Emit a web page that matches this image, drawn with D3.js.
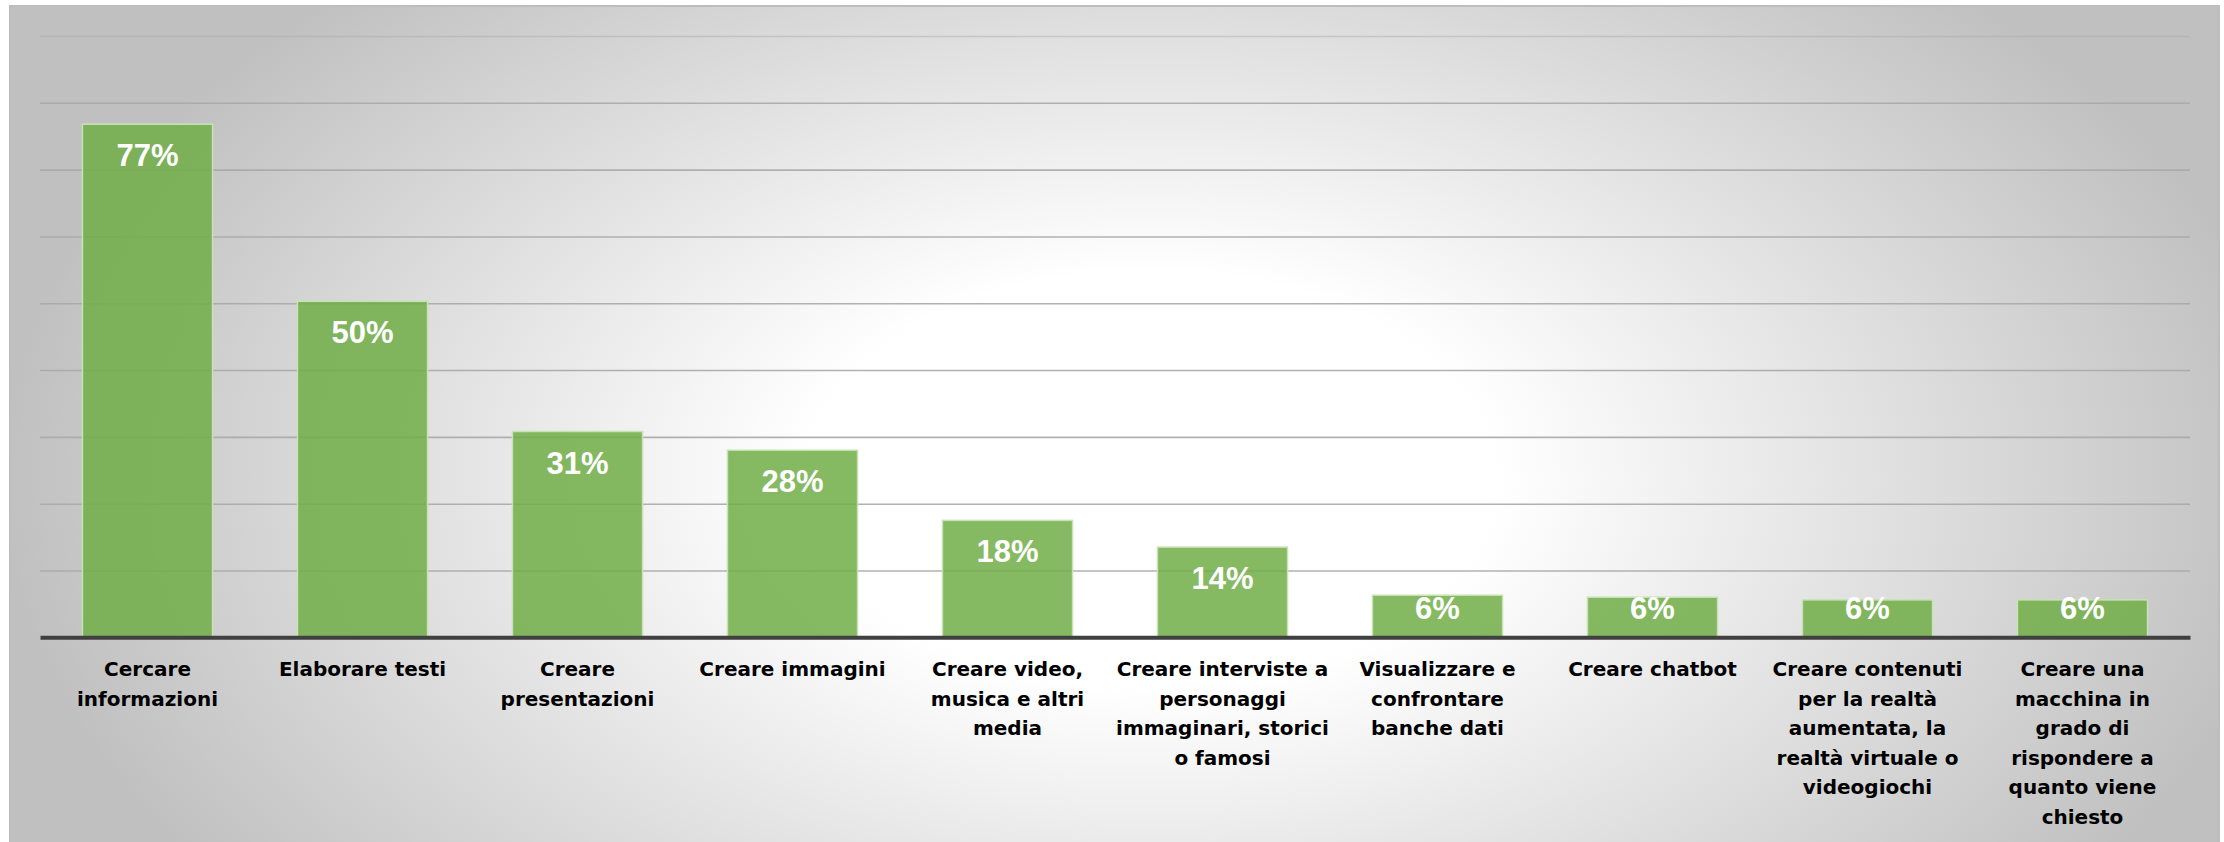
<!DOCTYPE html>
<html>
<head>
<meta charset="utf-8">
<script src="https://cdn.jsdelivr.net/npm/d3@7"></script>
<style>
    body { margin: 0; background: #ffffff; }
    svg { display: block; }
</style>
</head>
<body>
<svg id="chart" width="2224" height="842">
    <defs>
        <radialGradient id="bg-grad" gradientUnits="userSpaceOnUse" cx="1150" cy="480" r="1150"
            gradientTransform="translate(1150,480) scale(1,0.6) translate(-1150,-480)">
            <stop offset="0" stop-color="#ffffff"></stop>
            <stop offset="0.3" stop-color="#ffffff"></stop>
            <stop offset="1" stop-color="#c0c0c0"></stop>
        </radialGradient>
    </defs>
    <rect id="panel"></rect>
    <g id="grid"></g>
    <g id="bars"></g>
    <g id="x-axis"></g>
    <g id="value-labels"></g>
</svg>
<script>
// categories, line breaks as in the original slide
const categories = [
    'Cercare\ninformazioni',
    'Elaborare testi',
    'Creare\npresentazioni',
    'Creare immagini',
    'Creare video,\nmusica e altri\nmedia',
    'Creare interviste a\npersonaggi\nimmaginari, storici\no famosi',
    'Visualizzare e\nconfrontare\nbanche dati',
    'Creare chatbot',
    'Creare contenuti\nper la realtà\naumentata, la\nrealtà virtuale o\nvideogiochi',
    'Creare una\nmacchina in\ngrado di\nrispondere a\nquanto viene\nchiesto'
];

// percentages (bar heights)
const values = [76.8, 50.3, 30.8, 28.0, 17.5, 13.5, 6.3, 6.0, 5.6, 5.6];

// horizontal gridlines, no labels on the y axis
const gridTicks = [10, 20, 30, 40, 50, 60, 70, 80, 90];

class ToolUsageChart {
    constructor() {
        this.PANEL = {left: 10, top: 6, right: 2219, bottom: 842};
        this.PLOT = {left: 40, right: 2190, top: 36, bottom: 637.3};

        this.xScale = d3.scaleBand()
            .domain(d3.range(categories.length))
            .range([this.PLOT.left, this.PLOT.right])
            .paddingInner(0.395)
            .paddingOuter(0.1975);

        this.yScale = d3.scaleLinear()
            .domain([0, 90])
            .range([this.PLOT.bottom, this.PLOT.top]);

        this.drawChart();
    }

    drawChart() {
        this.drawPanel();
        this.drawGrid();
        this.drawBars();
        this.drawAxis();
        this.drawValueLabels();
    }

    drawPanel() {
        d3.select('#panel')
            .attr('x', this.PANEL.left)
            .attr('y', this.PANEL.top)
            .attr('width', this.PANEL.right - this.PANEL.left)
            .attr('height', this.PANEL.bottom - this.PANEL.top + 2)
            .attr('fill', 'url(#bg-grad)')
            .attr('stroke', '#bdbdbd')
            .attr('stroke-width', 2);
    }

    drawGrid() {
        let grid = d3.axisLeft()
            .scale(this.yScale)
            .tickValues(gridTicks)
            .tickSize(-(this.PLOT.right - this.PLOT.left))
            .tickFormat('');

        d3.select('#grid')
            .attr('transform', `translate(${this.PLOT.left}, 0)`)
            .call(grid)
            .call(g => g.select('.domain').remove());

        d3.select('#grid').selectAll('.tick line')
            .attr('stroke', '#a9a9a9')
            .attr('stroke-width', 1.6)
            .attr('stroke-opacity', d => d === 90 ? 0.45 : 0.9);
    }

    drawBars() {
        d3.select('#bars')
            .selectAll('rect')
            .data(values)
            .join('rect')
            .attr('x', (d, i) => this.xScale(i))
            .attr('y', d => this.yScale(d))
            .attr('width', this.xScale.bandwidth())
            .attr('height', d => this.yScale(0) - this.yScale(d))
            .attr('fill', '#70ad47')
            .attr('fill-opacity', 0.85)
            .attr('stroke', '#c8e2b6')
            .attr('stroke-width', 1.5);
    }

    drawAxis() {
        let xAxis = d3.axisBottom()
            .scale(this.xScale)
            .tickSize(0)
            .tickFormat('');

        d3.select('#x-axis')
            .attr('transform', `translate(0, ${this.PLOT.bottom})`)
            .call(xAxis);

        d3.select('#x-axis').select('.domain')
            .attr('stroke', '#404040')
            .attr('stroke-width', 4);

        // multi-line category labels
        d3.select('#x-axis').selectAll('.tick text')
            .attr('y', 38.7)
            .attr('dy', 0)
            .attr('fill', '#000')
            .style('font-family', '"DejaVu Sans", sans-serif')
            .style('font-weight', 'bold')
            .style('font-size', '20px')
            .attr('text-anchor', 'middle')
            .each(function(i) {
                d3.select(this)
                    .selectAll('tspan')
                    .data(categories[i].split('\n'))
                    .join('tspan')
                    .attr('x', 0)
                    .attr('dy', (d, k) => k === 0 ? 0 : 29.6)
                    .text(d => d);
            });
    }

    drawValueLabels() {
        d3.select('#value-labels')
            .selectAll('text')
            .data(values)
            .join('text')
            .attr('x', (d, i) => this.xScale(i) + this.xScale.bandwidth() / 2)
            .attr('y', d => Math.min(this.yScale(d) + 42, this.PLOT.bottom - 18))
            .attr('text-anchor', 'middle')
            .attr('fill', '#ffffff')
            .style('font-family', '"Liberation Sans", Arial, sans-serif')
            .style('font-weight', 'bold')
            .style('font-size', '31px')
            .text(d => Math.round(d) + '%');
    }
}

new ToolUsageChart();
</script>
</body>
</html>
